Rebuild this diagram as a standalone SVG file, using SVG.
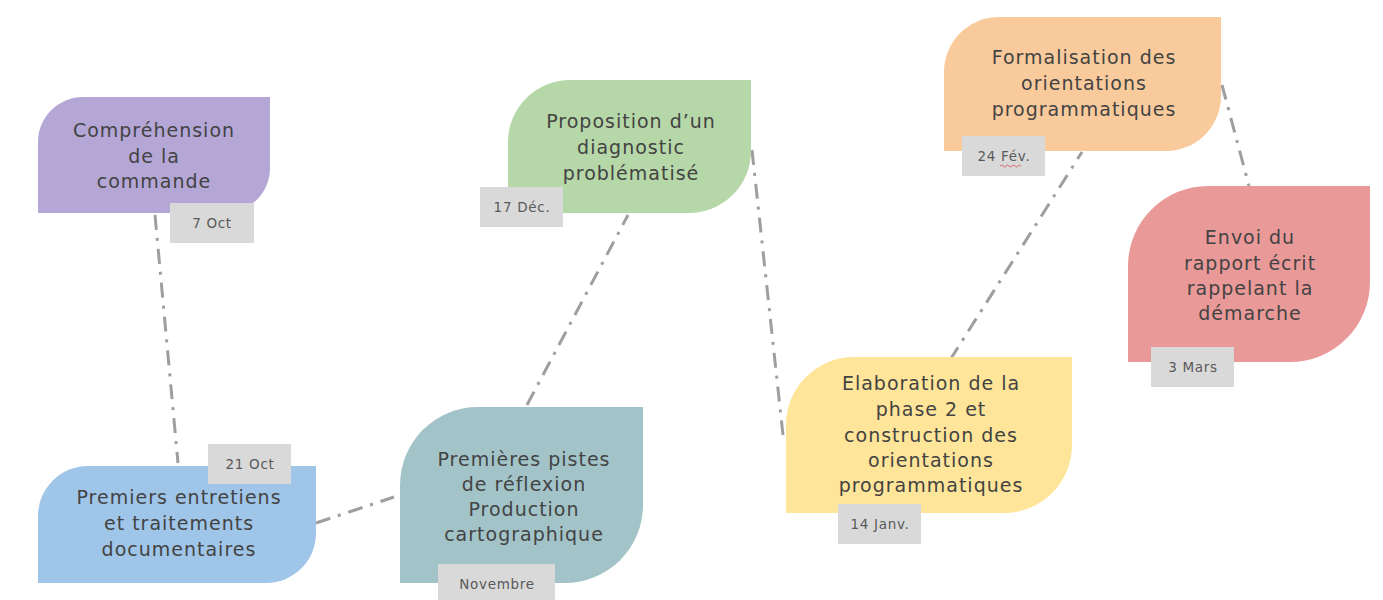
<svg xmlns="http://www.w3.org/2000/svg" width="1383" height="600" viewBox="0 0 1383 600">
<style>
.t{font-family:"DejaVu Sans","Open Sans",sans-serif;font-size:19px;letter-spacing:1px;fill:#434343;text-anchor:middle}
.d{font-family:"DejaVu Sans","Open Sans",sans-serif;font-size:13.5px;letter-spacing:0.7px;fill:#595959;text-anchor:middle}
.db{fill:#d9d9d9}
.c{stroke:#9e9e9e;stroke-width:3;fill:none;stroke-dasharray:15 8 3 8}
</style>
<rect width="1383" height="600" fill="#ffffff"/>
<g id="connectors">
<line class="c" x1="155" y1="215" x2="178" y2="463"/>
<line class="c" x1="316" y1="523" x2="394" y2="497"/>
<line class="c" x1="527" y1="405" x2="628" y2="215"/>
<line class="c" x1="752" y1="150" x2="783" y2="435"/>
<line class="c" x1="950" y1="360" x2="1082" y2="152"/>
<line class="c" x1="1222" y1="85" x2="1249" y2="186"/>
</g>
<g id="n1">
<path d="M38,142 A45,45 0 0 1 83,97 H270 V168 A45,45 0 0 1 225,213 H38 Z" fill="#b4a7d6"/>
<text class="t"><tspan x="154" y="137">Compréhension</tspan><tspan x="154" y="163">de la</tspan><tspan x="154" y="188">commande</tspan></text>
<rect class="db" x="170" y="203" width="84" height="40"/>
<text class="d" x="212" y="228">7 Oct</text>
</g>
<g id="n2">
<path d="M38,516 A50,50 0 0 1 88,466 H316 V533 A50,50 0 0 1 266,583 H38 Z" fill="#9fc5e8"/>
<rect class="db" x="208" y="444" width="83" height="40"/>
<text class="d" x="250" y="469">21 Oct</text>
<text class="t"><tspan x="179" y="504">Premiers entretiens</tspan><tspan x="179" y="530">et traitements</tspan><tspan x="179" y="556">documentaires</tspan></text>
</g>
<g id="n3">
<path d="M400,485 A78,78 0 0 1 478,407 H643 V505 A78,78 0 0 1 565,583 H400 Z" fill="#a2c4c9"/>
<text class="t"><tspan x="524" y="466">Premières pistes</tspan><tspan x="524" y="491">de réflexion</tspan><tspan x="524" y="516">Production</tspan><tspan x="524" y="541">cartographique</tspan></text>
<rect class="db" x="438" y="564" width="117" height="40"/>
<text class="d" x="497" y="589">Novembre</text>
</g>
<g id="n4">
<path d="M508,142 A62,62 0 0 1 570,80 H751 V151 A62,62 0 0 1 689,213 H508 Z" fill="#b6d7a8"/>
<text class="t"><tspan x="631" y="128">Proposition d’un</tspan><tspan x="631" y="154">diagnostic</tspan><tspan x="631" y="180">problématisé</tspan></text>
<rect class="db" x="480" y="187" width="83" height="40"/>
<text class="d" x="522" y="212">17 Déc.</text>
</g>
<g id="n5">
<path d="M786,425 A68,68 0 0 1 854,357 H1072 V445 A68,68 0 0 1 1004,513 H786 Z" fill="#ffe599"/>
<text class="t"><tspan x="931" y="390">Elaboration de la</tspan><tspan x="931" y="416">phase 2 et</tspan><tspan x="931" y="442">construction des</tspan><tspan x="931" y="467">orientations</tspan><tspan x="931" y="492">programmatiques</tspan></text>
<rect class="db" x="838" y="504" width="83" height="40"/>
<text class="d" x="880" y="529">14 Janv.</text>
</g>
<g id="n6">
<path d="M944,72 A55,55 0 0 1 999,17 H1221 V96 A55,55 0 0 1 1166,151 H944 Z" fill="#f9cb9c"/>
<text class="t"><tspan x="1084" y="64">Formalisation des</tspan><tspan x="1084" y="90">orientations</tspan><tspan x="1084" y="116">programmatiques</tspan></text>
<rect class="db" x="962" y="136" width="83" height="40"/>
<text class="d" x="1004" y="161">24 Fév.</text>
<path d="M1000,166 q1.5,-2 3,0 t3,0 t3,0 t3,0 t3,0 t3,0 t3,0" stroke="#e06666" stroke-width="1" fill="none"/>
</g>
<g id="n7">
<path d="M1128,266 A80,80 0 0 1 1208,186 H1370 V282 A80,80 0 0 1 1290,362 H1128 Z" fill="#ea9999"/>
<text class="t"><tspan x="1250" y="244">Envoi du</tspan><tspan x="1250" y="270">rapport écrit</tspan><tspan x="1250" y="295">rappelant la</tspan><tspan x="1250" y="320">démarche</tspan></text>
<rect class="db" x="1151" y="347" width="83" height="40"/>
<text class="d" x="1193" y="372">3 Mars</text>
</g>
</svg>
